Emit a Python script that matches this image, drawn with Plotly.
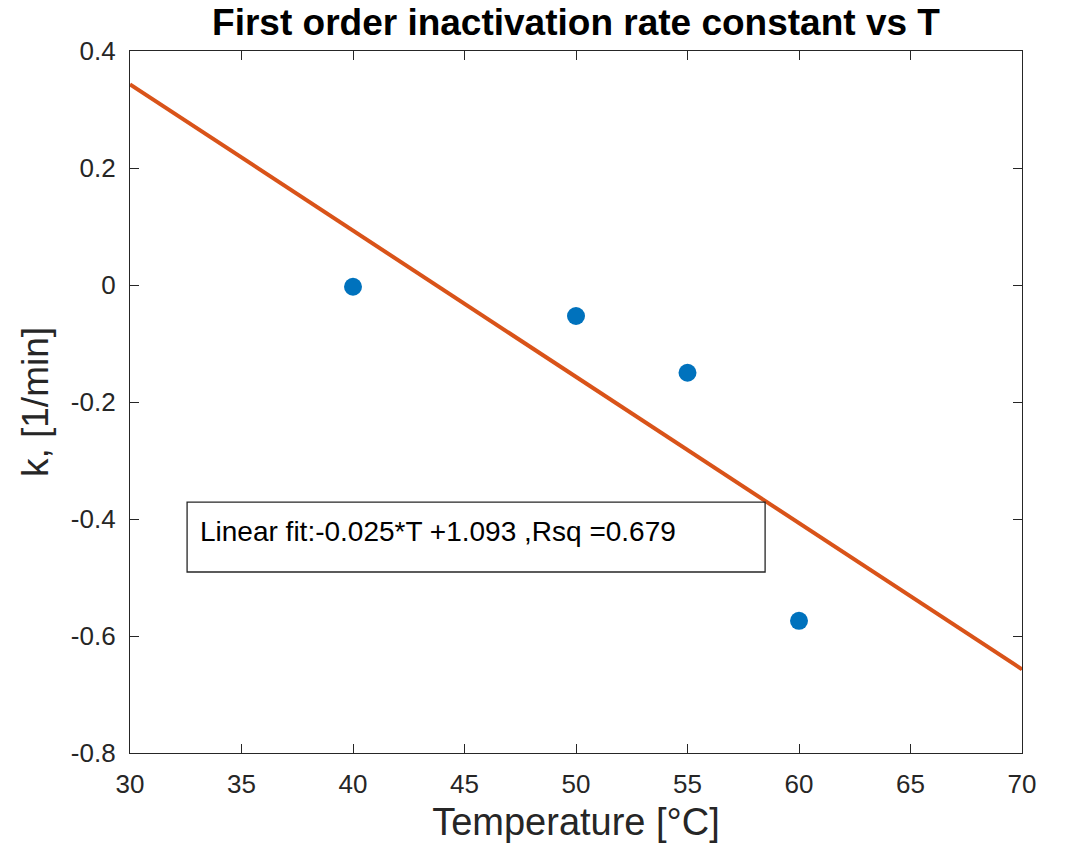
import plotly.graph_objects as go

# Data
temperature = [40, 50, 55, 60]
k_values = [-0.003, -0.053, -0.150, -0.574]
fit_slope = -0.025
fit_intercept = 1.093
fit_T = [30, 70]
rsq = 0.679
x_ticks = [30, 35, 40, 45, 50, 55, 60, 65, 70]
y_ticks = [-0.8, -0.6, -0.4, -0.2, 0, 0.2, 0.4]
y_tick_labels = ["-0.8", "-0.6", "-0.4", "-0.2", "0", "0.2", "0.4"]

fit_k = [fit_slope * t + fit_intercept for t in fit_T]

font_family = "Liberation Sans, Arial, sans-serif"

fig = go.Figure()
fig.add_trace(go.Scatter(
    x=fit_T, y=fit_k, mode="lines",
    line=dict(color="#D95319", width=4),
    showlegend=False))
fig.add_trace(go.Scatter(
    x=temperature, y=k_values, mode="markers",
    marker=dict(color="#0072BD", size=18, line=dict(width=0)),
    showlegend=False, cliponaxis=False))

axis_common = dict(
    showgrid=False, zeroline=False, showline=True, linecolor="#262626",
    linewidth=1.3, mirror="ticks", ticks="inside", ticklen=9,
    tickcolor="#262626", tickwidth=1.3,
    tickfont=dict(family=font_family, size=26, color="#262626"),
)

fig.update_layout(
    width=1066, height=851,
    margin=dict(l=130, r=44, t=51, b=98),
    paper_bgcolor="white", plot_bgcolor="white",
    title=dict(text="<b>First order inactivation rate constant vs T</b>",
               x=(130 + 1022) / 2 / 1066, xanchor="center",
               y=1 - 22 / 851, yanchor="middle",
               font=dict(family=font_family, size=37, color="black")),
    xaxis=dict(range=[30, 70], tickvals=x_ticks, ticklabelstandoff=8,
               title=dict(text="Temperature [°C]", standoff=10,
                          font=dict(family=font_family, size=38, color="#262626")),
               **axis_common),
    yaxis=dict(range=[-0.8, 0.4], tickvals=y_ticks, ticktext=y_tick_labels,
               ticklabelstandoff=8,
               title=dict(text="k, [1/min]", standoff=10,
                          font=dict(family=font_family, size=37, color="#262626")),
               **axis_common),
)

# Fit text box
fig.add_shape(type="rect", xref="x", yref="y",
              x0=32.56, x1=58.48, y0=-0.4906, y1=-0.371,
              line=dict(color="#262626", width=1.3), fillcolor="rgba(0,0,0,0)")
fig.add_annotation(
    xref="x", yref="y", x=33.05, y=-0.421, xanchor="left", yanchor="middle",
    text=f"Linear fit:{fit_slope:.3f}*T +{fit_intercept:.3f} ,Rsq ={rsq:.3f}",
    showarrow=False, font=dict(family=font_family, size=28, color="black"))

fig.write_html("out.html")
